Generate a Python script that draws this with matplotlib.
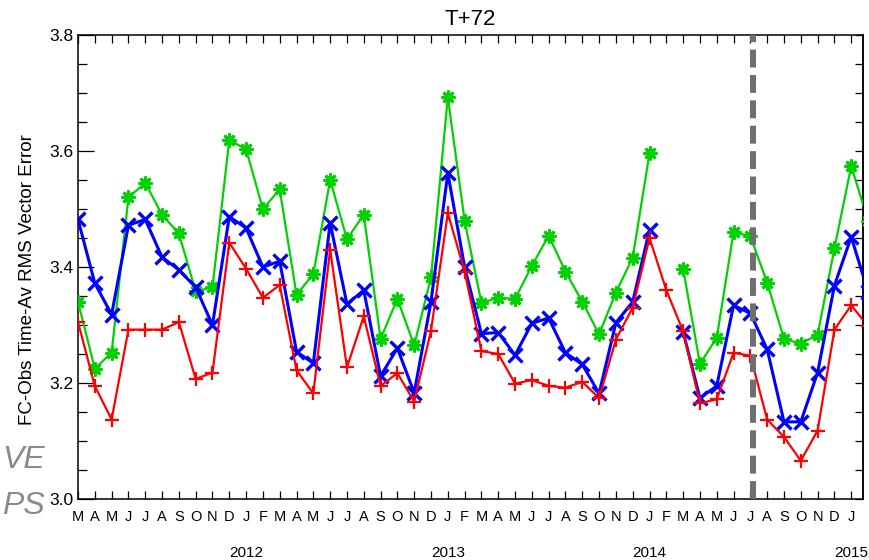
import numpy as np
import pandas as pd
import matplotlib
matplotlib.use("Agg")
import matplotlib.pyplot as plt
from matplotlib.ticker import MultipleLocator

plt.rcParams['font.family'] = ['Liberation Sans', 'DejaVu Sans']

# ---------------- data ----------------
start_month = '2011-03'
title = 'T+72'
ylabel = 'FC-Obs Time-Av RMS Vector Error'

red = [3.305, 3.195, 3.137, 3.292, 3.292, 3.292, 3.305, 3.207, 3.218, 3.442,
       3.397, 3.347, 3.369, 3.222, 3.182, 3.430, 3.227, 3.315, 3.195, 3.217,
       3.168, 3.290, 3.493, 3.392, 3.255, 3.250, 3.199, 3.205, 3.195, 3.192,
       3.202, 3.174, 3.275, 3.330, 3.450, 3.360, 3.289, 3.165, 3.172, 3.252,
       3.247, 3.137, 3.107, 3.066, 3.118, 3.292, 3.334, 3.298]

blue = [3.482, 3.372, 3.318, 3.472, 3.482, 3.417, 3.395, 3.365, 3.300, 3.487,
        3.467, 3.400, 3.410, 3.254, 3.234, 3.476, 3.336, 3.360, 3.212, 3.260,
        3.183, 3.340, 3.562, 3.400, 3.285, 3.287, 3.248, 3.303, 3.312, 3.252,
        3.232, 3.182, 3.304, 3.340, 3.464, np.nan, 3.288, 3.174, 3.195, 3.334,
        3.320, 3.258, 3.133, 3.133, 3.218, 3.368, 3.452, 3.357]

green = [3.340, 3.225, 3.252, 3.520, 3.545, 3.490, 3.458, 3.358, 3.365, 3.619,
         3.603, 3.500, 3.534, 3.352, 3.388, 3.550, 3.448, 3.490, 3.276, 3.345,
         3.265, 3.382, 3.693, 3.480, 3.338, 3.347, 3.345, 3.402, 3.454, 3.392,
         3.340, 3.284, 3.356, 3.416, 3.596, np.nan, 3.397, 3.233, 3.278, 3.460,
         3.453, 3.373, 3.276, 3.268, 3.283, 3.432, 3.574, 3.480]

split_month = '2014-07'
side_texts = ['VE', 'PS']

# ---------------- derived ----------------
dates = pd.date_range(start_month, periods=len(red), freq='MS')
x = np.arange(len(dates))
month_labels = [d.strftime('%b')[0] for d in dates]
year_idx = [i for i, d in enumerate(dates) if d.month == 1]
year_labels = [str(dates[i].year) for i in year_idx]
split_idx = list(dates).index(pd.Timestamp(split_month))

fig = plt.figure(figsize=(8.7, 5.6), dpi=100)
ax = fig.add_axes([78/870, 1-499/560, (863-78)/870, (499-35)/560])

ax.plot(x, green, color='#00d200', lw=1.6, marker=(8, 2, 0), ms=10, mew=2.0, zorder=3)
ax.plot(x, blue, color='#0000ff', lw=2.2, marker='x', ms=9.5, mew=2.4, zorder=4)
ax.plot(x, red, color='#ff0000', lw=1.6, marker='+', ms=10, mew=1.6, zorder=5)

ax.axvline(split_idx + 0.15, color='#6e6e6e', lw=4.3, dashes=(3, 1.25), zorder=6)

ax.set_xlim(0, 46.7)
ax.set_ylim(3.0, 3.8)
ax.set_xticks(x[:47])
ax.set_xticklabels(month_labels[:47], fontsize=10.5)
ax.set_yticks([3.0, 3.2, 3.4, 3.6, 3.8])
ax.set_yticklabels(['3.0', '3.2', '3.4', '3.6', '3.8'], fontsize=12.5)
ax.yaxis.set_minor_locator(MultipleLocator(0.05))

ax.tick_params(axis='x', which='major', direction='in', length=5.5, width=0.9,
               top=True, bottom=True, pad=8)
ax.tick_params(axis='y', which='major', direction='in', length=11.5, width=0.9,
               left=True, right=False, pad=3.5)
ax.tick_params(axis='y', which='minor', direction='in', length=6.5, width=0.9,
               left=True, right=False)

sec = ax.secondary_yaxis('right')
sec.yaxis.set_major_locator(MultipleLocator(0.05))
sec.tick_params(direction='in', length=5.5, width=0.9, labelright=False)

for sp in list(ax.spines.values()) + [sec.spines['right']]:
    sp.set_linewidth(1.1)

for i, lab in zip(year_idx, year_labels):
    ax.text(i, -0.117, lab, transform=ax.get_xaxis_transform(),
            ha='center', va='center', fontsize=11)

ax.set_title(title, fontsize=16, pad=7)
fig.text(28/870, 1-280/560, ylabel, rotation=90, ha='center', va='center',
         fontsize=13.5)

fig.text(2/870, 1-460/560, side_texts[0], ha='left', va='center',
         fontsize=23, style='italic', color='#8a8a8a')
fig.text(2/870, 1-506/560, side_texts[1], ha='left', va='center',
         fontsize=23, style='italic', color='#8a8a8a')

fig.savefig('out.png', dpi=100)
